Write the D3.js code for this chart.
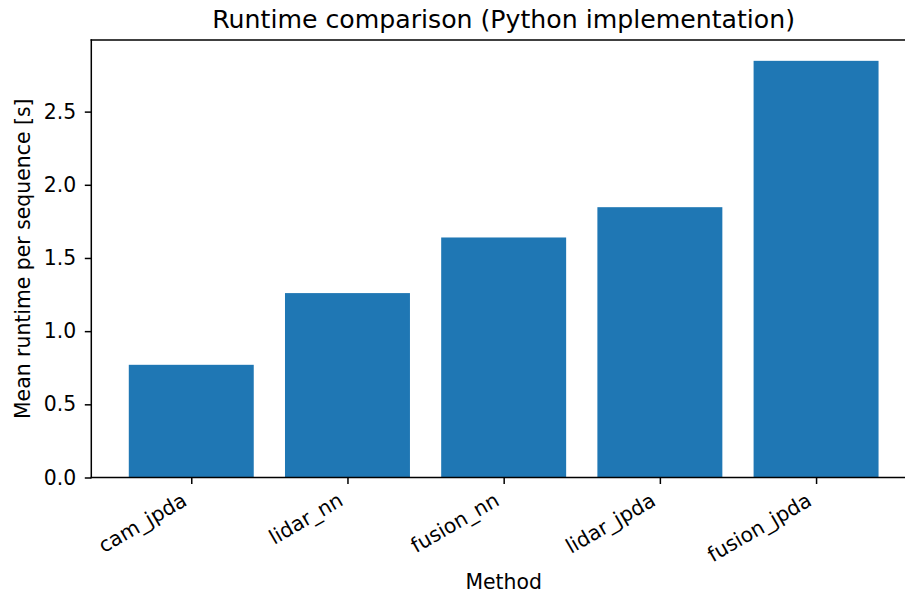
<!DOCTYPE html>
<html>
<head>
<meta charset="utf-8">
<script src="https://cdn.jsdelivr.net/npm/d3@7"></script>
<style>
  body { margin: 0; background: #fff; }
  svg { display: block; }
  svg text { font-family: "DejaVu Sans", sans-serif; fill: #000; }
</style>
</head>
<body>
<script>
const methods = ["cam_jpda", "lidar_nn", "fusion_nn", "lidar_jpda", "fusion_jpda"];
const runtimes = [0.77, 1.26, 1.64, 1.847, 2.847];
const yTicks = [0.0, 0.5, 1.0, 1.5, 2.0, 2.5];

const width = 905,
      height = 593,
      marginLeft = 91.3,
      marginTop = 40,
      axisBottom = 477.5,
      unit = 156.2,
      fontSize = 20.4;

const xScale = d3.scaleLinear()
                 .domain([-0.64, 4.64])
                 .range([marginLeft, marginLeft + 5.28 * unit]);

const yScale = d3.scaleLinear()
                 .domain([0, d3.max(runtimes) * 1.05])
                 .range([axisBottom, marginTop]);

const svg = d3.select("body")
              .append("svg")
              .attr("width", width)
              .attr("height", height);

svg.selectAll("rect.bar")
   .data(runtimes)
   .enter()
   .append("rect")
   .attr("class", "bar")
   .attr("x", (d, i) => xScale(i - 0.4))
   .attr("width", xScale(0.4) - xScale(-0.4))
   .attr("y", d => yScale(d))
   .attr("height", d => yScale(0) - yScale(d))
   .attr("fill", "#1f77b4");

const xAxis = d3.axisBottom(xScale)
                .tickValues(d3.range(methods.length))
                .tickFormat(i => methods[i])
                .tickSize(6.5)
                .tickSizeOuter(0);

const yAxis = d3.axisLeft(yScale)
                .tickValues(yTicks)
                .tickFormat(d3.format(".1f"))
                .tickSize(6.5)
                .tickPadding(8.5)
                .tickSizeOuter(0);

const gx = svg.append("g")
              .attr("transform", "translate(0," + axisBottom + ")")
              .call(xAxis)
              .attr("font-family", null)
              .attr("font-size", fontSize);

gx.selectAll("text")
  .attr("text-anchor", "end")
  .attr("dy", null)
  .attr("y", null)
  .attr("transform", "translate(-3.4,26.9) rotate(-30)");

const gy = svg.append("g")
              .attr("transform", "translate(" + marginLeft + ",0)")
              .call(yAxis)
              .attr("font-family", null)
              .attr("font-size", fontSize);

svg.selectAll(".domain").remove();
svg.selectAll(".tick line").attr("stroke", "#000").attr("stroke-width", 1.5);

// spines
const right = xScale(4.64);
const spines = svg.append("g")
                  .attr("stroke", "#000")
                  .attr("stroke-width", 1.5)
                  .attr("stroke-linecap", "square");
spines.append("line").attr("x1", marginLeft).attr("x2", marginLeft).attr("y1", marginTop).attr("y2", axisBottom);
spines.append("line").attr("x1", marginLeft).attr("x2", right).attr("y1", axisBottom).attr("y2", axisBottom);
spines.append("line").attr("x1", marginLeft).attr("x2", right).attr("y1", marginTop).attr("y2", marginTop);
spines.append("line").attr("x1", right).attr("x2", right).attr("y1", marginTop).attr("y2", axisBottom);

svg.append("text")
   .attr("x", (marginLeft + right) / 2)
   .attr("y", 28)
   .attr("text-anchor", "middle")
   .attr("font-size", 25.2)
   .text("Runtime comparison (Python implementation)");

svg.append("text")
   .attr("x", (marginLeft + right) / 2)
   .attr("y", 589)
   .attr("text-anchor", "middle")
   .attr("font-size", fontSize)
   .text("Method");

svg.append("text")
   .attr("transform", "translate(30," + ((marginTop + axisBottom) / 2) + ") rotate(-90)")
   .attr("text-anchor", "middle")
   .attr("font-size", fontSize)
   .text("Mean runtime per sequence [s]");
</script>
</body>
</html>
